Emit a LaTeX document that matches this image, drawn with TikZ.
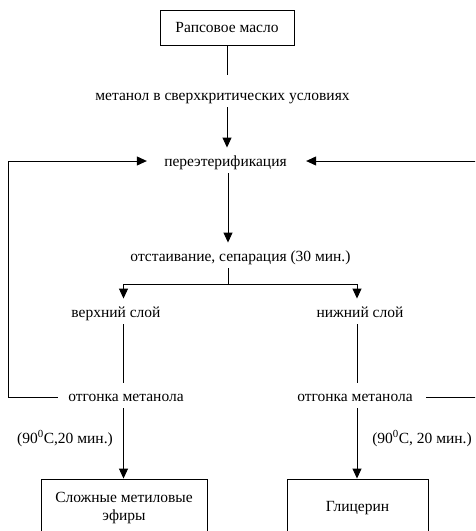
\documentclass[tikz,border=0pt]{standalone}
\usepackage{fontspec}
\setmainfont{Liberation Serif}
\usetikzlibrary{arrows.meta}
\begin{document}
\begin{tikzpicture}[x=1pt,y=-1pt,
  font=\fontsize{15.5}{18}\selectfont,
  line width=0.9pt,
  txt/.style={inner xsep=4pt, inner ysep=5pt, text height=13pt, text depth=2pt, anchor=base},
  boxst/.style={draw, inner sep=0pt, align=center},
  arr/.style={-{Triangle[width=9pt,length=10pt]}}]
\useasboundingbox (0,0) rectangle (475,531);
\clip (0,0) rectangle (475,531);
\node[boxst, minimum width=134pt, minimum height=35pt] (raps) at (227,27.5) {Рапсовое масло};
\node[txt] (met) at (222.5,100) {метанол в сверхкритических условиях};
\node[txt] (pere) at (225.5,166) {переэтерификация};
\node[txt] (otst) at (240.5,261) {отстаивание, сепарация (30 мин.)};
\node[txt] (verh) at (116,317) {верхний слой};
\node[txt] (nizh) at (360,317) {нижний слой};
\node[txt] (otg1) at (126,401) {отгонка метанола};
\node[txt] (otg2) at (355,401) {отгонка метанола};
\node[txt] (t1) at (65,443) {(90\textsuperscript{0}C,20 мин.)};
\node[txt] (t2) at (422,443) {(90\textsuperscript{0}C, 20 мин.)};
\node[boxst, minimum width=166pt, minimum height=58pt] (b1) at (124,508) {Сложные метиловые\\эфиры};
\node[boxst, minimum width=141pt, minimum height=58pt] (b2) at (357.5,508) {Глицерин};
\coordinate (split) at (228,284);
\coordinate (sl) at (123.5,284);
\coordinate (sr) at (357,284);
\coordinate (lx) at (8,0);
\coordinate (rx) at (482,0);
\coordinate (pin) at ([xshift=-13pt,yshift=5pt]pere.base west);
\coordinate (pinr) at ([xshift=15pt,yshift=5pt]pere.base east);
\draw (raps.south) -- ([yshift=7pt]met.north -| raps.south);
\draw[arr] (met.south -| raps.south) -- (pere.north -| raps.south);
\draw[arr] (pere.south -| split) -- (otst.north -| split);
\draw (otst.south -| split) -- (split);
\draw (sl) -- (sr);
\draw[arr] (sl) -- (sl |- verh.north);
\draw[arr] (sr) -- (sr |- nizh.north);
\draw (sl |- verh.south) -- (sl |- otg1.north);
\draw (sr |- nizh.south) -- (sr |- otg2.north);
\draw[arr] (sl |- otg1.south) -- (sl |- b1.north);
\draw[arr] (sr |- otg2.south) -- (sr |- b2.north);
\draw[arr] ([xshift=-6pt,yshift=4pt]otg1.base west) -| (lx |- pin) -- (pin);
\draw[arr] ([xshift=9pt,yshift=4pt]otg2.base east) -| (rx |- pinr) -- (pinr);
\end{tikzpicture}
\end{document}
